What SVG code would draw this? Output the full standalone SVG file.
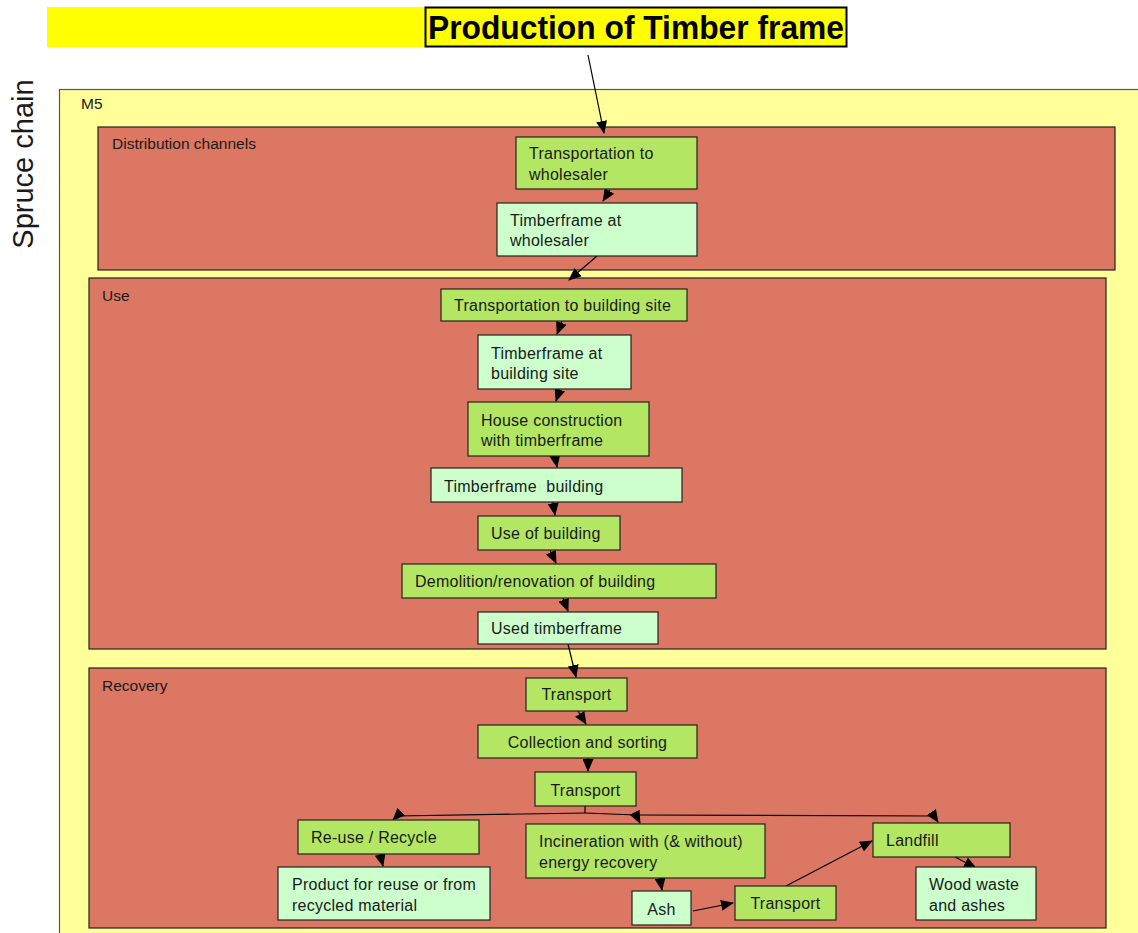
<svg xmlns="http://www.w3.org/2000/svg" width="1138" height="933" viewBox="0 0 1138 933">
<defs>
<style>
.t{font-family:"Liberation Sans",Arial,sans-serif;font-size:16px;letter-spacing:0.25px;fill:#1a1a1a}
.lbl{font-family:"Liberation Sans",Arial,sans-serif;font-size:15.5px;fill:#1a1a1a}
.g{fill:#B3E663;stroke:#222;stroke-width:1.2}
.l{fill:#CCFFCC;stroke:#222;stroke-width:1.2}
.sec{fill:#DB7762;stroke:#222;stroke-width:1.2}
.c{fill:none;stroke:#000;stroke-width:1.2;marker-end:url(#ah)}
.cn{fill:none;stroke:#000;stroke-width:1.2}
</style>
<marker id="ah" viewBox="0 0 13 11" refX="12" refY="5.5" markerWidth="13" markerHeight="11" markerUnits="userSpaceOnUse" orient="auto">
<path d="M0,0 L13,5.5 L0,11 Z" fill="#000"/>
</marker>
</defs>
<rect width="1138" height="933" fill="#fff"/>
<g id="title">
<rect x="47" y="7" width="378" height="40" fill="#FFFF00"/>
<rect x="425.5" y="7.5" width="421" height="39" fill="#FFFF00" stroke="#000" stroke-width="2"/>
<text x="428" y="39" font-family="'Liberation Sans',Arial,sans-serif" font-weight="bold" font-size="33" textLength="416" lengthAdjust="spacingAndGlyphs" fill="#000">Production of Timber frame</text>
</g>
<g id="spruce">
<text transform="translate(33,164) rotate(-90)" text-anchor="middle" font-family="'Liberation Sans',Arial,sans-serif" font-size="29" fill="#1a1a1a">Spruce chain</text>
</g>
<g id="m5">
<rect x="59.5" y="89.5" width="1090" height="860" fill="#FFFF99" stroke="#555" stroke-width="1.2"/>
<text class="lbl" x="81" y="109" font-size="14.5">M5</text>
</g>
<g id="distribution">
<rect class="sec" x="98" y="127" width="1017" height="143"/>
<text class="lbl" x="112" y="149">Distribution channels</text>
</g>
<g id="use">
<rect class="sec" x="89" y="278" width="1017" height="371"/>
<text class="lbl" x="102" y="301">Use</text>
</g>
<g id="recovery">
<rect class="sec" x="89" y="668" width="1017" height="260"/>
<text class="lbl" x="102" y="691">Recovery</text>
</g>
<g id="connectors">
<path class="c" d="M588,55 L604,133"/>
<path class="c" d="M610,190 L603,201"/>
<path class="c" d="M597,256 L569,280"/>
<path class="c" d="M562,321 L557,334"/>
<path class="c" d="M560,389 L556,401"/>
<path class="c" d="M555,456 L557,467"/>
<path class="c" d="M553,502 L555,515"/>
<path class="c" d="M550,550 L556,563"/>
<path class="c" d="M563,598 L568,611"/>
<path class="c" d="M568,644 L576,677"/>
<path class="c" d="M578,711 L586,724"/>
<path class="c" d="M588,758 L588,771"/>
<path class="cn" d="M585,806 L585,813"/>
<path class="c" d="M585,813 L397,816 L393,820"/>
<path class="c" d="M585,813 L636,815 L640,823"/>
<path class="c" d="M636,815 L934,816 L938,822"/>
<path class="c" d="M380,854 L383,866"/>
<path class="c" d="M660,878 L662,890"/>
<path class="c" d="M693,911 L733,903"/>
<path class="c" d="M786,886 L872,841"/>
<path class="c" d="M955,857 L976,868"/>
</g>
<g id="n1"><rect class="g" x="516" y="137" width="181" height="52"/><text class="t" x="529" y="159">Transportation to</text><text class="t" x="529" y="180">wholesaler</text></g>
<g id="n2"><rect class="l" x="497" y="203" width="200" height="53"/><text class="t" x="510" y="226">Timberframe at</text><text class="t" x="510" y="246">wholesaler</text></g>
<g id="n3"><rect class="g" x="441" y="289" width="246" height="32"/><text class="t" x="454" y="311">Transportation to building site</text></g>
<g id="n4"><rect class="l" x="478" y="335" width="153" height="54"/><text class="t" x="491" y="359">Timberframe at</text><text class="t" x="491" y="379">building site</text></g>
<g id="n5"><rect class="g" x="468" y="402" width="181" height="54"/><text class="t" x="481" y="426">House construction</text><text class="t" x="481" y="446">with timberframe</text></g>
<g id="n6"><rect class="l" x="431" y="468" width="251" height="34"/><text class="t" x="444" y="492" xml:space="preserve">Timberframe  building</text></g>
<g id="n7"><rect class="g" x="478" y="516" width="142" height="34"/><text class="t" x="491" y="539">Use of building</text></g>
<g id="n8"><rect class="g" x="402" y="564" width="314" height="34"/><text class="t" x="415" y="587">Demolition/renovation of building</text></g>
<g id="n9"><rect class="l" x="478" y="612" width="180" height="32"/><text class="t" x="491" y="634">Used timberframe</text></g>
<g id="n10"><rect class="g" x="526" y="678" width="101" height="33"/><text class="t" x="576.5" y="700" text-anchor="middle">Transport</text></g>
<g id="n11"><rect class="g" x="478" y="725" width="219" height="33"/><text class="t" x="587.5" y="748" text-anchor="middle">Collection and sorting</text></g>
<g id="n12"><rect class="g" x="535" y="772" width="101" height="34"/><text class="t" x="585.5" y="796" text-anchor="middle">Transport</text></g>
<g id="n13"><rect class="g" x="298" y="820" width="181" height="34"/><text class="t" x="311" y="843">Re-use / Recycle</text></g>
<g id="n14"><rect class="g" x="526" y="824" width="239" height="54"/><text class="t" x="539" y="847">Incineration with (&amp; without)</text><text class="t" x="539" y="868">energy recovery</text></g>
<g id="n15"><rect class="g" x="873" y="823" width="137" height="34"/><text class="t" x="886" y="846">Landfill</text></g>
<g id="n16"><rect class="l" x="278" y="867" width="212" height="53"/><text class="t" x="292" y="890">Product for reuse or from</text><text class="t" x="292" y="911">recycled material</text></g>
<g id="n17"><rect class="l" x="632" y="891" width="59" height="34"/><text class="t" x="661.5" y="915" text-anchor="middle">Ash</text></g>
<g id="n18"><rect class="g" x="735" y="886" width="101" height="34"/><text class="t" x="785.5" y="909" text-anchor="middle">Transport</text></g>
<g id="n19"><rect class="l" x="916" y="867" width="120" height="53"/><text class="t" x="929" y="890">Wood waste</text><text class="t" x="929" y="911">and ashes</text></g>
</svg>
